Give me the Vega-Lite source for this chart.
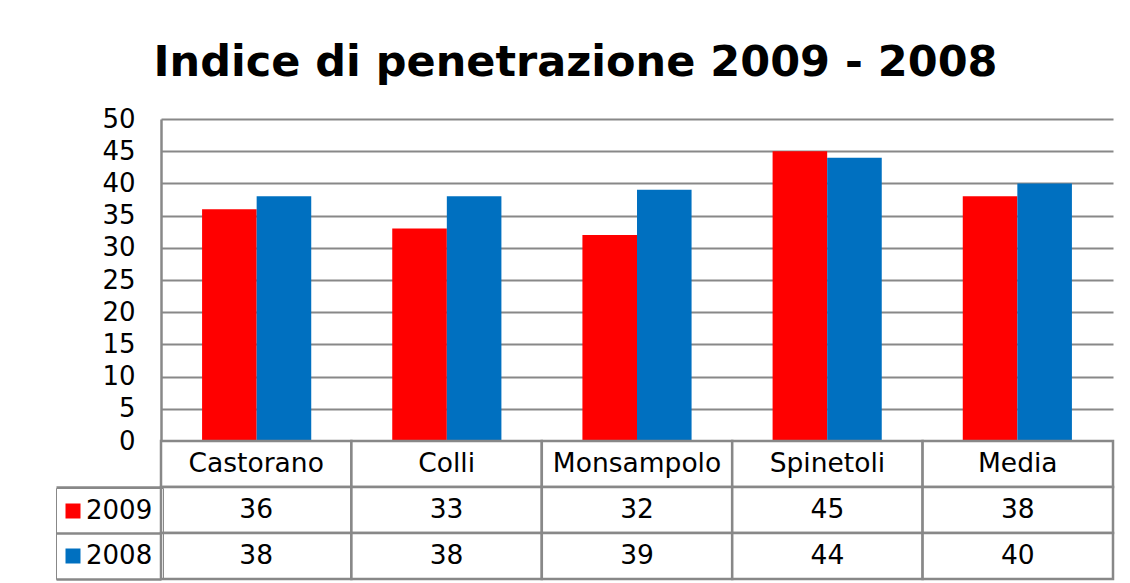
{
  "$schema": "https://vega.github.io/schema/vega-lite/v6.json",
  "padding": {"left": 54, "top": 42, "right": 18, "bottom": 4},
  "background": "white",
  "bounds": "flush",
  "config": {"font": "DejaVu Sans", "view": {"stroke": null}},
  "title": {"text": "Indice di penetrazione 2009 - 2008", "fontSize": 43, "fontWeight": "bold", "color": "black", "anchor": "middle", "offset": 21, "dx": -9, "font": "DejaVu Sans"},
  "datasets": {
    "valori": [
      {"comune": "Castorano", "serie": "2009", "valore": 36},
      {"comune": "Castorano", "serie": "2008", "valore": 38},
      {"comune": "Colli", "serie": "2009", "valore": 33},
      {"comune": "Colli", "serie": "2008", "valore": 38},
      {"comune": "Monsampolo", "serie": "2009", "valore": 32},
      {"comune": "Monsampolo", "serie": "2008", "valore": 39},
      {"comune": "Spinetoli", "serie": "2009", "valore": 45},
      {"comune": "Spinetoli", "serie": "2008", "valore": 44},
      {"comune": "Media", "serie": "2009", "valore": 38},
      {"comune": "Media", "serie": "2008", "valore": 40}
    ],
    "comuni": [
      {"comune": "Castorano", "riga": "nome"},
      {"comune": "Colli", "riga": "nome"},
      {"comune": "Monsampolo", "riga": "nome"},
      {"comune": "Spinetoli", "riga": "nome"},
      {"comune": "Media", "riga": "nome"}
    ]
  },
  "spacing": 0,
  "resolve": {"scale": {"x": "independent", "y": "independent"}, "legend": {"color": "independent"}},
  "vconcat": [
    {
      "width": 952,
      "height": 322,
      "data": {"name": "valori"},
      "mark": {"type": "bar"},
      "encoding": {
        "x": {"field": "comune", "type": "nominal", "axis": null,
              "scale": {"domain": ["Castorano", "Colli", "Monsampolo", "Spinetoli", "Media"], "paddingInner": 0.426, "paddingOuter": 0.216}},
        "xOffset": {"field": "serie", "type": "nominal", "scale": {"domain": ["2009", "2008"]}},
        "y": {"field": "valore", "type": "quantitative", "scale": {"domain": [0, 50], "nice": false},
              "axis": {"values": [0, 5, 10, 15, 20, 25, 30, 35, 40, 45, 50], "title": null, "ticks": false, "labelPadding": 26,
                       "labelFontSize": 26, "labelColor": "black", "labelFont": "DejaVu Sans", "domainColor": "#888888", "domainWidth": 2.5,
                       "gridColor": "#888888", "gridWidth": 2, "gridOpacity": 1}},
        "color": {"field": "serie", "type": "nominal", "scale": {"domain": ["2009", "2008"], "range": ["#ff0000", "#0070c0"]}, "legend": null}
      }
    },
    {
      "width": 952,
      "height": 138,
      "layer": [
        {
          "data": {"name": "comuni"},
          "mark": {"type": "rect", "fill": "white", "stroke": "#888888", "strokeWidth": 2.5},
          "encoding": {
            "x": {"field": "comune", "type": "nominal", "axis": null, "scale": {"domain": ["Castorano", "Colli", "Monsampolo", "Spinetoli", "Media"], "paddingInner": 0, "paddingOuter": 0}},
            "y": {"field": "riga", "type": "nominal", "scale": {"domain": ["nome", "2009", "2008"], "paddingInner": 0, "paddingOuter": 0},
                  "axis": {"title": null, "labels": false, "domain": false, "ticks": true, "bandPosition": 1, "tickSize": 105, "tickWidth": 2.5, "tickColor": "#888888"}}
          }
        },
        {
          "data": {"name": "comuni"},
          "mark": {"type": "text", "fontSize": 26.5, "color": "black", "font": "DejaVu Sans"},
          "encoding": {
            "x": {"field": "comune", "type": "nominal"},
            "y": {"field": "riga", "type": "nominal"},
            "text": {"field": "comune"}
          }
        },
        {
          "data": {"name": "valori"},
          "mark": {"type": "rect", "fill": "white", "stroke": "#888888", "strokeWidth": 2.5},
          "encoding": {
            "x": {"field": "comune", "type": "nominal"},
            "y": {"field": "serie", "type": "nominal"}
          }
        },
        {
          "data": {"name": "valori"},
          "mark": {"type": "text", "fontSize": 26.5, "color": "black", "font": "DejaVu Sans"},
          "encoding": {
            "x": {"field": "comune", "type": "nominal"},
            "y": {"field": "serie", "type": "nominal"},
            "text": {"field": "valore", "type": "quantitative"}
          }
        },
        {
          "data": {"name": "valori"},
          "mark": {"type": "square", "opacity": 0},
          "encoding": {
            "x": {"field": "comune", "type": "nominal"},
            "y": {"field": "serie", "type": "nominal"},
            "color": {"field": "serie", "type": "nominal", "scale": {"domain": ["2009", "2008"], "range": ["#ff0000", "#0070c0"]},
                      "legend": {"title": null, "orient": "none", "legendX": -105, "legendY": 47, "symbolType": "square", "symbolSize": 225,
                                 "symbolOpacity": 1, "symbolStrokeWidth": 0, "symbolOffset": -6, "labelFontSize": 26, "labelColor": "black", "labelFont": "DejaVu Sans",
                                 "labelOffset": 0, "rowPadding": 19, "padding": 10, "strokeColor": "#888888", "cornerRadius": 0}}
          }
        }
      ]
    }
  ]
}
